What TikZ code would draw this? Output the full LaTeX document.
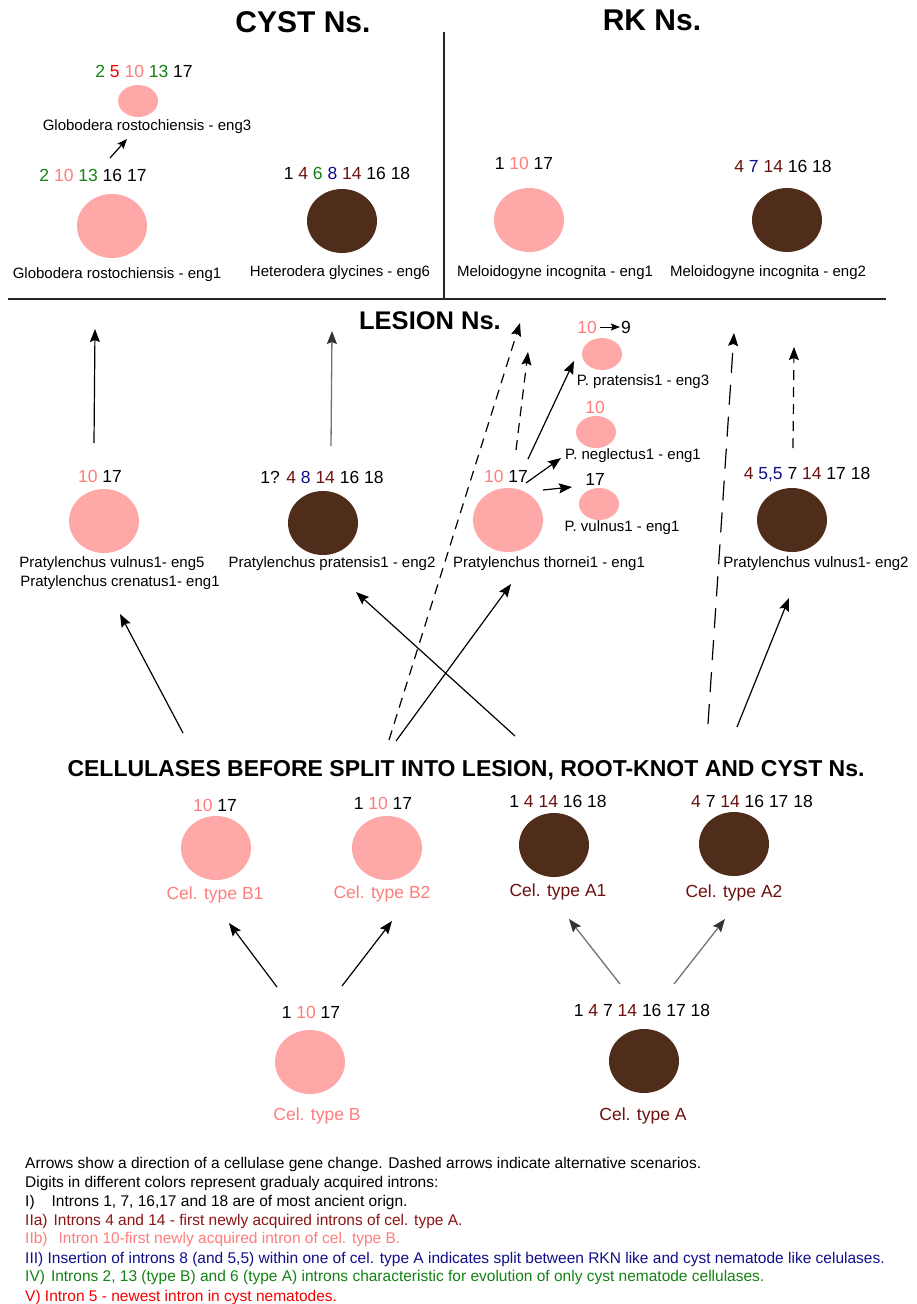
\documentclass[tikz,border=0pt]{standalone}
\usepackage{fontspec}
\setmainfont{Liberation Sans}
\usetikzlibrary{shapes.geometric,arrows.meta}
\definecolor{pinkfill}{RGB}{255,168,168}
\definecolor{brownfill}{RGB}{80,45,26}
\definecolor{pinktxt}{RGB}{255,125,125}
\definecolor{dredtxt}{RGB}{110,15,15}
\definecolor{legred}{RGB}{140,20,20}
\definecolor{nbluetxt}{RGB}{15,15,140}
\definecolor{dgreentxt}{RGB}{20,130,20}
\definecolor{bredtxt}{RGB}{245,0,0}
\newcommand{\ipink}[1]{\textcolor{pinktxt}{#1}}
\newcommand{\idred}[1]{\textcolor{dredtxt}{#1}}
\newcommand{\iblue}[1]{\textcolor{nbluetxt}{#1}}
\newcommand{\igreen}[1]{\textcolor{dgreentxt}{#1}}
\newcommand{\ired}[1]{\textcolor{bredtxt}{#1}}
\begin{document}
\begin{tikzpicture}[x=1pt,y=-1pt,
  lbl/.style={font=\fontsize{15}{18}\selectfont, inner sep=0pt, anchor=center},
  num/.style={font=\fontsize{17.5}{21}\selectfont, inner sep=0pt, anchor=center},
  head/.style={font=\bfseries\fontsize{30}{34}\selectfont, inner sep=0pt},
  leg/.style={font=\fontsize{15.5}{18}\selectfont, inner sep=0pt, anchor=base west},
  bigpink/.style={ellipse, fill=pinkfill, minimum width=70pt, minimum height=64pt, inner sep=0pt},
  bigbrown/.style={ellipse, fill=brownfill, minimum width=70pt, minimum height=64pt, inner sep=0pt},
  smallpink/.style={ellipse, fill=pinkfill, minimum width=40pt, minimum height=32pt, inner sep=0pt},
  arr/.style={-{Stealth[length=13pt,width=10pt,inset=2pt]}, line width=1.2pt},
  grayarr/.style={-{Stealth[length=13pt,width=10pt,inset=2pt,color=black!80]}, line width=1.3pt, draw=black!55},
  darr/.style={arr, dash pattern=on 10pt off 7pt},
  ldarr/.style={arr, dash pattern=on 20pt off 12pt},
  divider/.style={line width=1.5pt, draw=black!85}
]
\fill[white] (0,0) rectangle (916,1304);
\useasboundingbox (0,0) rectangle (916,1304);

% ---------- headings and dividers
\node[head] (tCyst) at (303,22) {CYST Ns.};
\node[head] (tRK) at (652,20) {RK Ns.};
\node[head, font=\bfseries\fontsize{25.5}{30}\selectfont] (tLesion) at (430,321) {LESION Ns.};
\node[head, font=\bfseries\fontsize{23}{28}\selectfont] (tCell) at (466,770) {CELLULASES BEFORE SPLIT INTO LESION, ROOT-KNOT AND CYST Ns.};
\coordinate (vtop) at (444,32);
\coordinate (vbot) at (444,298);
\coordinate (hleft) at (8,299);
\coordinate (hright) at (886,299);
\draw[divider] (vtop) -- (vbot);
\draw[divider] (hleft) -- (hright);

% ---------- cyst
\node[smallpink] (gr3) at (138,101) {};
\node[num] (gr3n) at (144,71) {\igreen{2} \ired{5} \ipink{10} \igreen{13} 17};
\node[lbl] (gr3l) at (147,127) {Globodera rostochiensis - eng3};
\node[bigpink] (gr1) at (112,226) {};
\node[num] (gr1n) at (93,175) {\igreen{2} \ipink{10} \igreen{13} 16 17};
\node[lbl] (gr1l) at (117,275) {Globodera rostochiensis - eng1};
\node[bigbrown] (hg6) at (342,221) {};
\node[num] (hg6n) at (347,173) {1 \idred{4} \igreen{6} \iblue{8} \idred{14} 16 18};
\node[lbl] (hg6l) at (340,273) {Heterodera glycines - eng6};
\coordinate (g13s) at (110,158);
\coordinate (g13e) at (127,139);
\draw[arr, -{Stealth[length=10pt,width=8pt,inset=2pt]}] (g13s) -- (g13e);

% ---------- root-knot
\node[bigpink] (mi1) at (529,220) {};
\node[num] (mi1n) at (524,163) {1 \ipink{10} 17};
\node[lbl] (mi1l) at (555,273) {Meloidogyne incognita - eng1};
\node[bigbrown] (mi2) at (787,220) {};
\node[num] (mi2n) at (783,166) {\idred{4} \iblue{7} \idred{14} 16 18};
\node[lbl] (mi2l) at (768,273) {Meloidogyne incognita - eng2};

% ---------- lesion
\node[bigpink] (pv5) at (104,521) {};
\node[num] (pv5n) at (100,476) {\ipink{10} 17};
\node[lbl] (pv5l) at (112,564) {Pratylenchus vulnus1- eng5};
\node[lbl] (pc1l) at (120,583) {Pratylenchus crenatus1- eng1};
\node[bigbrown] (pp2) at (323,523) {};
\node[num] (pp2n) at (322,477) {1? \idred{4} \iblue{8} \idred{14} 16 18};
\node[lbl] (pp2l) at (332,564) {Pratylenchus pratensis1 - eng2};
\node[bigpink] (pt1) at (508,520) {};
\node[num] (pt1n) at (506,476) {\ipink{10} 17};
\node[lbl] (pt1l) at (549,564) {Pratylenchus thornei1 - eng1};
\node[smallpink] (pp3) at (602,354) {};
\node[num] (pp3a) at (587,327) {\ipink{10}};
\node[num] (pp3b) at (626,327) {9};
\node[lbl] (pp3l) at (643,382) {P. pratensis1 - eng3};
\draw[arr, line width=1pt, -{Stealth[length=9pt,width=7pt,inset=1.5pt]}] (pp3a.east) ++(3,0) coordinate (pp3s) -- ([xshift=-1pt]pp3b.west);
\node[smallpink] (pn1) at (596,432) {};
\node[num] (pn1n) at (595,407) {\ipink{10}};
\node[lbl] (pn1l) at (633,456) {P. neglectus1 - eng1};
\node[smallpink] (pvs) at (599,504) {};
\node[num] (pvsn) at (595,479) {17};
\node[lbl] (pvsl) at (622,528) {P. vulnus1 - eng1};
\node[bigbrown] (pv2) at (792,520) {};
\node[num] (pv2n) at (807,475) {\idred{4} \iblue{5,5} 7 \idred{14} 17 18};
\node[lbl] (pv2l) at (816,564) {Pratylenchus vulnus1- eng2};

% lesion -> upper arrows
\coordinate (la1s) at (94,443);  \coordinate (la1e) at (95,329);
\coordinate (la2s) at (331,446); \coordinate (la2e) at (332,331);
\coordinate (la3s) at (528,459); \coordinate (la3e) at (574,361);
\coordinate (la4s) at (526,483); \coordinate (la4e) at (561,458);
\coordinate (la5s) at (543,490); \coordinate (la5e) at (572,487);
\coordinate (la6s) at (516,450); \coordinate (la6e) at (528,352);
\coordinate (la7s) at (793,448); \coordinate (la7e) at (794,347);
\draw[arr] (la1s) -- (la1e);
\draw[grayarr] (la2s) -- (la2e);
\draw[arr] (la3s) -- (la3e);
\draw[arr] (la4s) -- (la4e);
\draw[arr] (la5s) -- (la5e);
\draw[darr] (la6s) -- (la6e);
\draw[darr] (la7s) -- (la7e);

% cellulases -> lesion arrows
\coordinate (ca1s) at (183,733); \coordinate (ca1e) at (120,614);
\coordinate (ca2s) at (515,736); \coordinate (ca2e) at (356,592);
\coordinate (ca3s) at (396,741); \coordinate (ca3e) at (511,584);
\coordinate (ca4s) at (389,740); \coordinate (ca4e) at (520,323);
\coordinate (ca5s) at (708,724); \coordinate (ca5e) at (734,333);
\coordinate (ca6s) at (737,727); \coordinate (ca6e) at (789,598);
\draw[arr] (ca1s) -- (ca1e);
\draw[arr] (ca2s) -- (ca2e);
\draw[arr] (ca3s) -- (ca3e);
\draw[darr] (ca4s) -- (ca4e);
\draw[ldarr] (ca5s) -- (ca5e);
\draw[arr] (ca6s) -- (ca6e);

% ---------- cellulase types
\node[bigpink] (cB1) at (216,848) {};
\node[num] (cB1n) at (215,805) {\ipink{10} 17};
\node[num, text=pinktxt] (cB1l) at (215,895) {Cel. type B1};
\node[bigpink] (cB2) at (387,848) {};
\node[num] (cB2n) at (383,803) {1 \ipink{10} 17};
\node[num, text=pinktxt] (cB2l) at (382,894) {Cel. type B2};
\node[bigbrown] (cA1) at (554,845) {};
\node[num] (cA1n) at (558,801) {1 \idred{4} \idred{14} 16 18};
\node[num, text=dredtxt] (cA1l) at (558,892) {Cel. type A1};
\node[bigbrown] (cA2) at (734,844) {};
\node[num] (cA2n) at (752,801) {\idred{4} 7 \idred{14} 16 17 18};
\node[num, text=dredtxt] (cA2l) at (734,893) {Cel. type A2};

\node[bigpink] (cB) at (310,1062) {};
\node[num] (cBn) at (311,1012) {1 \ipink{10} 17};
\node[num, text=pinktxt] (cBl) at (317,1116) {Cel. type B};
\node[bigbrown] (cA) at (644,1061) {};
\node[num] (cAn) at (642,1010) {1 \idred{4} 7 \idred{14} 16 17 18};
\node[num, text=dredtxt] (cAl) at (643,1116) {Cel. type A};

\coordinate (ba1s) at (277,987); \coordinate (ba1e) at (229,923);
\coordinate (ba2s) at (342,986); \coordinate (ba2e) at (392,921);
\coordinate (ba3s) at (620,984); \coordinate (ba3e) at (569,919);
\coordinate (ba4s) at (674,984); \coordinate (ba4e) at (725,919);
\draw[arr] (ba1s) -- (ba1e);
\draw[arr] (ba2s) -- (ba2e);
\draw[grayarr] (ba3s) -- (ba3e);
\draw[grayarr] (ba4s) -- (ba4e);

% ---------- legend
\node[leg] (lg1) at (25,1168.5) {Arrows show a direction of a cellulase gene change. Dashed arrows indicate alternative scenarios.};
\node[leg] (lg2) at (25,1187.5) {Digits in different colors represent gradualy acquired introns:};
\node[leg] (lg3) at (25,1206.5) {I)\hspace{17pt}Introns 1, 7, 16,17 and 18 are of most ancient orign.};
\node[leg, text=legred] (lg4) at (25,1225.5) {IIa)\hspace{6pt}Introns 4 and 14 - first newly acquired introns of cel. type A.};
\node[leg, text=pinktxt] (lg5) at (25,1243.5) {IIb)\hspace{11pt}Intron 10-first newly acquired intron of cel. type B.};
\node[leg, text=nbluetxt] (lg6) at (25,1263.5) {III) Insertion of introns 8 (and 5,5) within one of cel. type A indicates split between RKN like and cyst nematode like celulases.};
\node[leg, text=dgreentxt] (lg7) at (25,1281.5) {IV)\hspace{6pt}Introns 2, 13 (type B) and 6 (type A) introns characteristic for evolution of only cyst nematode cellulases.};
\node[leg, text=bredtxt] (lg8) at (25,1301) {V) Intron 5 - newest intron in cyst nematodes.};
\end{tikzpicture}
\end{document}
